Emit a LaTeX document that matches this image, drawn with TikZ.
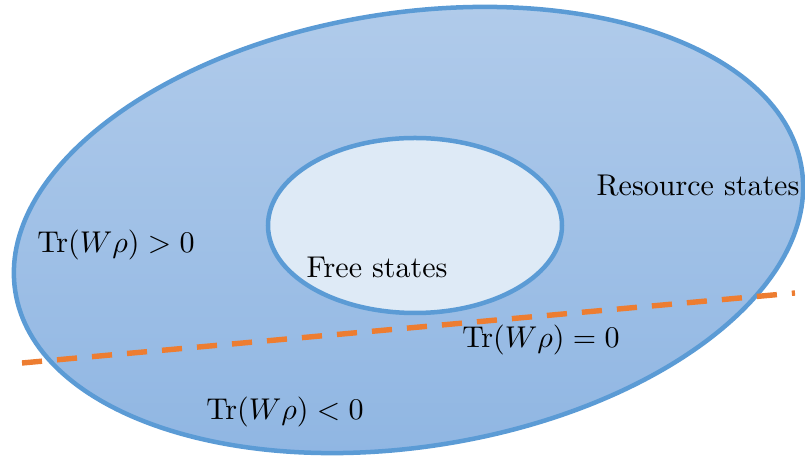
\documentclass[tikz,border=0pt]{standalone}
\usetikzlibrary{shapes.geometric}
\definecolor{edgeblue}{RGB}{91,155,213}
\definecolor{topblue}{RGB}{178,204,235}
\definecolor{botblue}{RGB}{142,181,226}
\definecolor{freefill}{RGB}{222,234,246}
\definecolor{dashorange}{RGB}{237,125,49}
\tikzset{
  region/.style={ellipse, inner sep=0pt, outer sep=0pt, draw=edgeblue, line width=1.5pt},
  lbl/.style={inner sep=0pt, font=\normalsize},
}
\begin{document}
\begin{tikzpicture}[x=0.333pt, y=-0.333pt]
\useasboundingbox (0,0) rectangle (805,459);
\node[region, minimum width=796*0.333pt, minimum height=434*0.333pt, rotate=8.9,
      top color=topblue, bottom color=botblue] (res) at (408.5,230) {};
\node[region, minimum width=294*0.333pt, minimum height=175*0.333pt, fill=freefill] (free) at (415,225.5) {};
\coordinate (dl) at (22,363);
\coordinate (dr) at (795,293);
\draw[dashorange, line width=1.8pt, dash pattern=on 6.7pt off 5pt] (dl) -- (dr);
\node[lbl] (pos) at (116,245) {$\mathrm{Tr}(W\rho)>0$};
\node[lbl] (fs) at (377,267) {Free states};
\node[lbl] (rs) at (698,186) {Resource states};
\node[lbl] (zero) at (541,340) {$\mathrm{Tr}(W\rho)=0$};
\node[lbl] (neg) at (285,412) {$\mathrm{Tr}(W\rho)<0$};
\end{tikzpicture}
\end{document}
